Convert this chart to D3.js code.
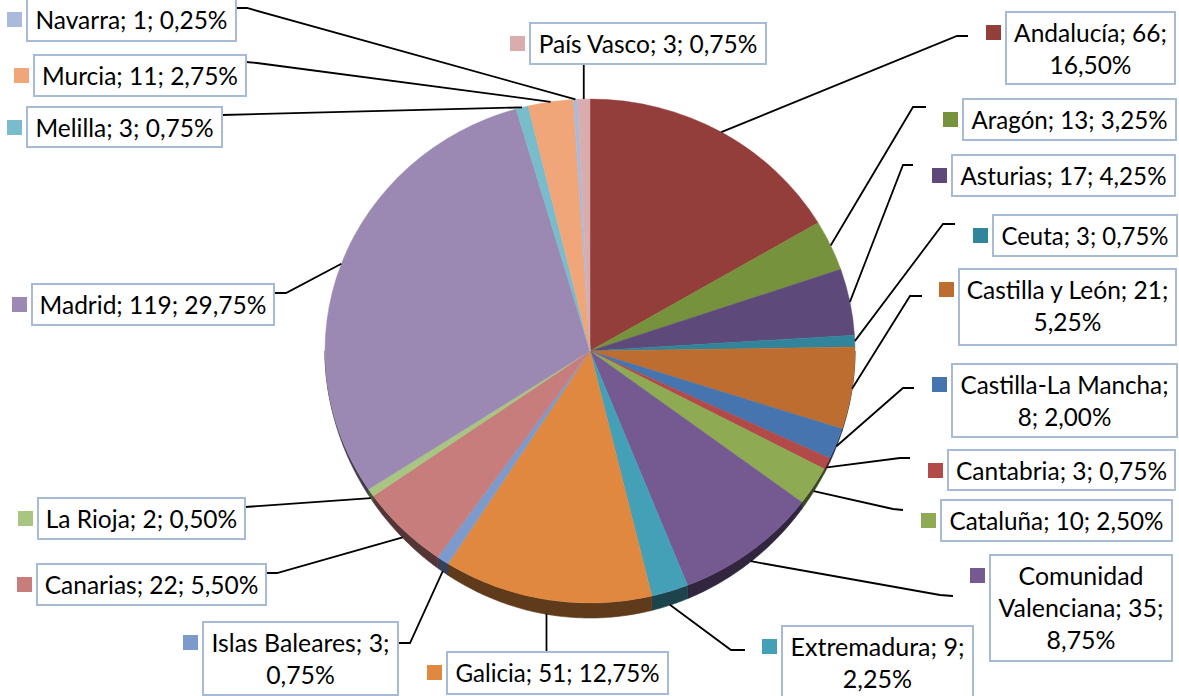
<!DOCTYPE html>
<html>
<head>
<meta charset="utf-8">
<script src="https://cdn.jsdelivr.net/npm/d3@7"></script>
<style>
  html, body { margin: 0; padding: 0; background: #fff; }
  svg { display: block; }
  text { font-family: Lato, "Open Sans", sans-serif; fill: #000; }
</style>
</head>
<body>
<svg id="chart" width="1179" height="696"></svg>
<script>
// Distribution by autonomous community (count of 400)
const regions = [
  "Andalucía", "Aragón", "Asturias", "Ceuta", "Castilla y León",
  "Castilla-La Mancha", "Cantabria", "Cataluña", "Comunidad Valenciana",
  "Extremadura", "Galicia", "Islas Baleares", "Canarias", "La Rioja",
  "Madrid", "Melilla", "Murcia", "Navarra", "País Vasco"
];
const counts = [66, 13, 17, 3, 21, 8, 3, 10, 35, 9, 51, 3, 22, 2, 119, 3, 11, 1, 3];
const colors = [
  "#943e3c", "#77923d", "#5e4a7a", "#31849a", "#bd6d30",
  "#4674ae", "#b14a48", "#8eaa52", "#745a91", "#44a0b6",
  "#e0883f", "#7c9acb", "#c67d7c", "#a8c581", "#9b89b3",
  "#79bccc", "#f1a679", "#a9badb", "#d9adad"
];

// Label boxes: [x, y, w, h], words per line, leader start and elbow
const labelLayout = [
  { box: [1006, 12, 169, 72], lines: [2, 1], start: [968, 36], elbow: [957, 36] },
  { box: [963, 99, 213, 41], lines: [3], start: [926, 107], elbow: [913, 107] },
  { box: [952, 155, 223, 41], lines: [3], start: [913, 165], elbow: [903, 165] },
  { box: [993, 215, 184, 41], lines: [3], start: [955, 224], elbow: [943, 224] },
  { box: [959, 269, 217, 76], lines: [4, 1], start: [922, 296], elbow: [910, 296] },
  { box: [952, 364, 225, 73], lines: [2, 2], start: [914, 388], elbow: [903, 388] },
  { box: [948, 450, 227, 40], lines: [3], start: [910, 458], elbow: [900, 458] },
  { box: [941, 500, 231, 41], lines: [3], start: [903, 510], elbow: [893, 509] },
  { box: [990, 555, 182, 106], lines: [1, 2, 1], start: [953, 596], elbow: [940, 595] },
  { box: [782, 626, 191, 76], lines: [2, 1], start: [745, 650], elbow: [731, 650] },
  { box: [447, 652, 221, 42], lines: [3], start: [546, 652], elbow: null },
  { box: [203, 622, 195, 73], lines: [3, 1], start: [398, 643], elbow: [410, 643] },
  { box: [37, 564, 229, 41], lines: [3], start: [266, 573], elbow: [277, 573] },
  { box: [38, 498, 207, 41], lines: [4], start: [245, 507], elbow: null },
  { box: [32, 284, 242, 41], lines: [3], start: [274, 293], elbow: [286, 293] },
  { box: [27, 107, 195, 40], lines: [3], start: [222, 115], elbow: null },
  { box: [34, 55, 212, 41], lines: [3], start: [246, 62], elbow: [257, 63] },
  { box: [27, -1, 209, 42], lines: [3], start: [236, 8], elbow: [247, 8] },
  { box: [530, 23, 236, 41], lines: [4], start: [584, 64], elbow: null }
];

const svg = d3.select("#chart");
const cx = 590, cy = 351, rx = 265, ry = 252, depth = 15;
const total = d3.sum(counts);

const data = regions.map((r, i) => ({ region: r, count: counts[i], color: colors[i], i }));
const pie = d3.pie().sort(null).value(d => d.count).startAngle(0).endAngle(2 * Math.PI);
const arcs = pie(data);

// point on the top ellipse for a given angle (0 = 12 o'clock, clockwise)
const pt = (a, dy = 0) => [cx + rx * Math.sin(a), cy - ry * Math.cos(a) + dy];
// visible wall height: full at the front, tapering towards the sides
const wall = a => depth * Math.pow(Math.max(0, -Math.cos(a)), 1.6);

// side walls (only the front half is visible)
const sideG = svg.append("g");
arcs.forEach(a => {
  const a0 = Math.max(a.startAngle, Math.PI / 2);
  const a1 = Math.min(a.endAngle, 3 * Math.PI / 2);
  if (a1 <= a0) return;
  const steps = Math.max(2, Math.ceil((a1 - a0) / 0.01));
  const angs = d3.range(steps + 1).map(k => a0 + (a1 - a0) * k / steps);
  const top = angs.map(t => pt(t));
  const bottom = angs.map(t => pt(t, wall(t))).reverse();
  const c = d3.color(a.data.color).darker(2.4);
  sideG.append("path")
    .attr("d", d3.line()(top.concat(bottom)) + "Z")
    .attr("fill", c)
    .attr("stroke", c)
    .attr("stroke-width", 0.6);
});

// top faces
const arcGen = d3.arc().innerRadius(0).outerRadius(rx);
svg.append("g")
  .attr("transform", `translate(${cx},${cy}) scale(1,${ry / rx})`)
  .selectAll("path")
  .data(arcs)
  .join("path")
  .attr("d", arcGen)
  .attr("fill", d => d.data.color)
  .attr("stroke", d => d.data.color)
  .attr("stroke-width", 0.5);

// leader lines: end on the outer silhouette at each slice's mid angle
const leaderG = svg.append("g")
  .attr("fill", "none").attr("stroke", "#000").attr("stroke-width", 1.8);
arcs.forEach((a, i) => {
  const L = labelLayout[i];
  const mid = (a.startAngle + a.endAngle) / 2;
  const end = pt(mid, Math.max(0, wall(mid) - 0.5));
  let pts = [L.start];
  if (L.elbow) pts.push(L.elbow);
  if (!L.elbow && (i === 10 || i === 18)) pts = [[end[0], L.start[1]]];
  pts.push(end);
  leaderG.append("path").attr("d", d3.line()(pts));
});

// label boxes
const fmtPct = v => d3.format(".2f")(v).replace(".", ",") + "%";
const fontSize = 24.5, lineH = 32;
arcs.forEach((a, i) => {
  const L = labelLayout[i];
  const [bx, by, bw, bh] = L.box;
  const g = svg.append("g");
  g.append("rect")
    .attr("x", bx).attr("y", by).attr("width", bw).attr("height", bh)
    .attr("fill", "#fff").attr("stroke", "#a7bbd6").attr("stroke-width", 2);
  g.append("rect")
    .attr("x", bx - 20).attr("y", by + 13).attr("width", 15).attr("height", 15)
    .attr("fill", a.data.color);
  const words = `${a.data.region}; ${a.data.count}; ${fmtPct(a.data.count / total * 100)}`.split(" ");
  const lines = [];
  let w = 0;
  L.lines.forEach(n => { lines.push(words.slice(w, w + n).join(" ")); w += n; });
  if (w < words.length) lines[lines.length - 1] += " " + words.slice(w).join(" ");
  const texts = lines.map((s, k) => g.append("text")
    .attr("x", bx + bw / 2).attr("y", by + 30 + k * lineH)
    .attr("text-anchor", "middle")
    .attr("font-size", fontSize)
    .text(s));
  const widths = texts.map(t => t.node().getComputedTextLength());
  const maxW = d3.max(widths);
  const target = bw - 17;
  const f = Math.max(0.85, Math.min(1.12, target / maxW));
  if (Math.abs(f - 1) > 0.01) {
    texts.forEach((t, k) => t.attr("textLength", widths[k] * f).attr("lengthAdjust", "spacingAndGlyphs"));
  }
});
</script>
</body>
</html>
